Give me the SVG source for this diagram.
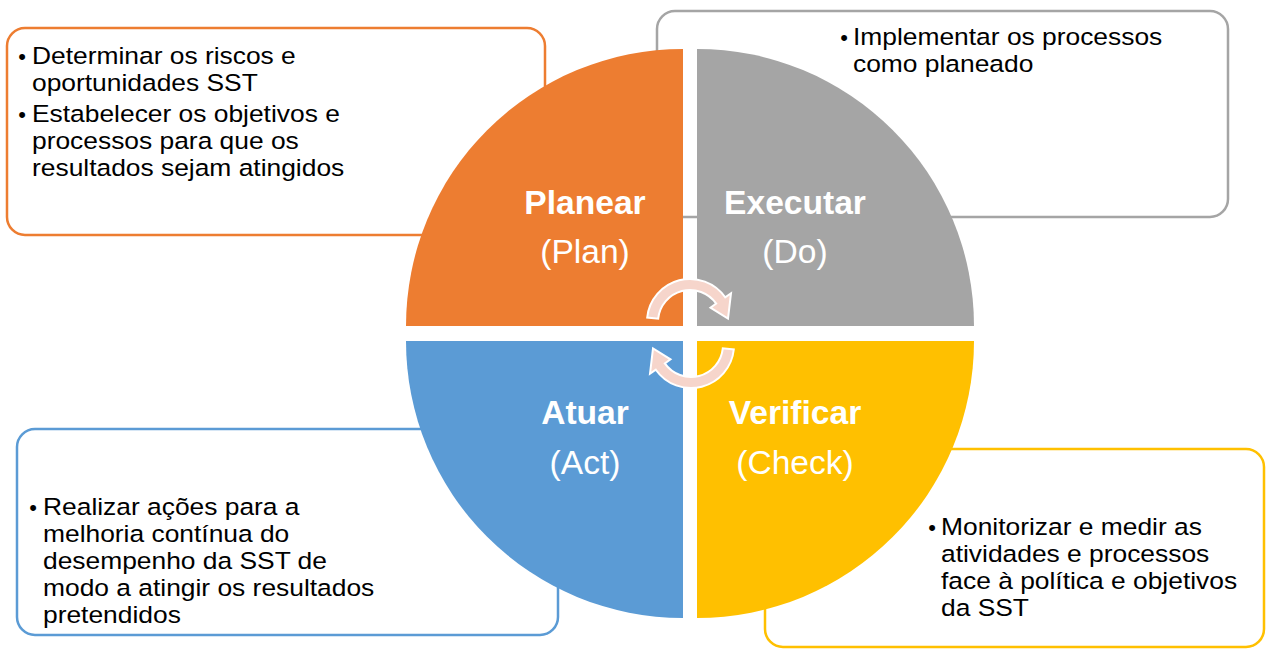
<svg xmlns="http://www.w3.org/2000/svg" width="1266" height="650" viewBox="0 0 1266 650">
  <style>
    .box { fill: #ffffff; stroke-width: 2.5; }
    .body { font-family: "Liberation Sans", Arial, sans-serif; font-size: 23.5px; fill: #000000; }
    .bullet { font-family: "Liberation Sans", Arial, sans-serif; font-size: 22px; fill: #000000; text-anchor: middle; }
    .lblb { font-family: "Liberation Sans", Arial, sans-serif; font-size: 33.6px; font-weight: bold; fill: #ffffff; text-anchor: middle; }
    .lbl { font-family: "Liberation Sans", Arial, sans-serif; font-size: 33.6px; fill: #ffffff; text-anchor: middle; }
    .cyc { fill: #F6D5CB; stroke: #ffffff; stroke-width: 2; stroke-linejoin: miter; }
  </style>
  <defs>
    <path id="cycArrow" d="M647.2,317.5 A43,43 0 0 1 725.2,297.3 L731,293.3 L728,318.5 L710.5,307.7 L716.2,303.6 A32,32 0 0 0 658.2,318.7 Z"/>
  </defs>
  <rect width="1266" height="650" fill="#ffffff"/>

  <!-- note boxes (behind the circle) -->
  <g id="plan-note">
    <rect class="box" x="7" y="28" width="538" height="207" rx="18" stroke="#ED7D31"/>
    <text class="bullet" x="22" y="64">•</text>
    <text class="bullet" x="22" y="122">•</text>
    <text class="body" transform="translate(32 0) scale(1.123 1)">
      <tspan x="0" y="64">Determinar os riscos e</tspan>
      <tspan x="0" y="91">oportunidades SST</tspan>
      <tspan x="0" y="122">Estabelecer os objetivos e</tspan>
      <tspan x="0" y="149">processos para que os</tspan>
      <tspan x="0" y="176">resultados sejam atingidos</tspan>
    </text>
  </g>
  <g id="do-note">
    <rect class="box" x="657" y="11" width="571" height="206" rx="18" stroke="#A5A5A5"/>
    <text class="bullet" x="844" y="45">•</text>
    <text class="body" transform="translate(853 0) scale(1.123 1)">
      <tspan x="0" y="45">Implementar os processos</tspan>
      <tspan x="0" y="72">como planeado</tspan>
    </text>
  </g>
  <g id="act-note">
    <rect class="box" x="17" y="429" width="541" height="206" rx="18" stroke="#5B9BD5"/>
    <text class="bullet" x="33" y="515">•</text>
    <text class="body" transform="translate(43 0) scale(1.123 1)">
      <tspan x="0" y="515">Realizar ações para a</tspan>
      <tspan x="0" y="542">melhoria contínua do</tspan>
      <tspan x="0" y="569">desempenho da SST de</tspan>
      <tspan x="0" y="596">modo a atingir os resultados</tspan>
      <tspan x="0" y="623">pretendidos</tspan>
    </text>
  </g>
  <g id="check-note">
    <rect class="box" x="765" y="449" width="499" height="198" rx="18" stroke="#FFC000"/>
    <text class="bullet" x="932" y="535">•</text>
    <text class="body" transform="translate(941 0) scale(1.123 1)">
      <tspan x="0" y="535">Monitorizar e medir as</tspan>
      <tspan x="0" y="562">atividades e processos</tspan>
      <tspan x="0" y="589">face à política e objetivos</tspan>
      <tspan x="0" y="616">da SST</tspan>
    </text>
  </g>

  <!-- quadrants -->
  <g id="plan">
    <path d="M683,326 L406,326 A277,277 0 0 1 683,49 Z" fill="#ED7D31"/>
    <text class="lblb" x="585" y="214">Planear</text>
    <text class="lbl" x="585" y="263">(Plan)</text>
  </g>
  <g id="do">
    <path d="M697,326 L697,49 A277,277 0 0 1 974,326 Z" fill="#A5A5A5"/>
    <text class="lblb" x="795" y="214">Executar</text>
    <text class="lbl" x="795" y="263">(Do)</text>
  </g>
  <g id="check">
    <path d="M697,341 L974,341 A277,277 0 0 1 697,618 Z" fill="#FFC000"/>
    <text class="lblb" x="795" y="424">Verificar</text>
    <text class="lbl" x="795" y="474">(Check)</text>
  </g>
  <g id="act">
    <path d="M683,341 L683,618 A277,277 0 0 1 406,341 Z" fill="#5B9BD5"/>
    <text class="lblb" x="585" y="424">Atuar</text>
    <text class="lbl" x="585" y="474">(Act)</text>
  </g>

  <!-- cycle arrows -->
  <g id="connectors">
    <use href="#cycArrow" class="cyc"/>
    <use href="#cycArrow" class="cyc" transform="rotate(180 690.5 333.5)"/>
  </g>
</svg>
